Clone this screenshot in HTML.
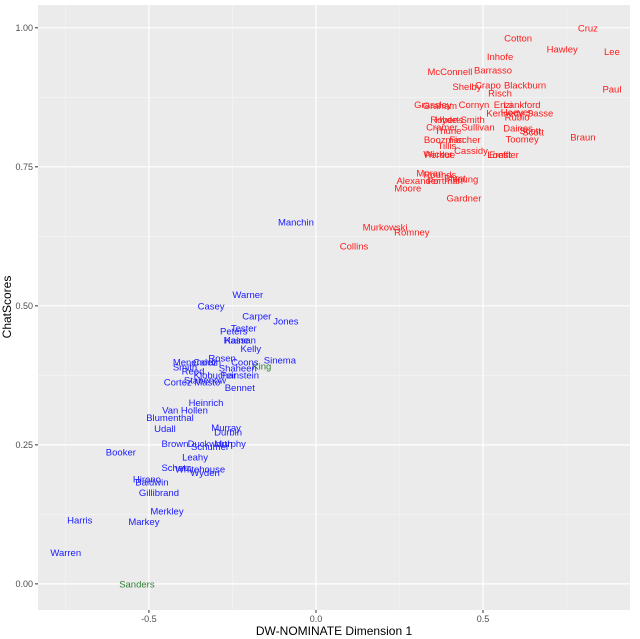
<!DOCTYPE html>
<html><head><meta charset="utf-8"><style>
html,body{margin:0;padding:0;background:#fff;}
svg{display:block;font-family:"Liberation Sans",sans-serif;}
</style></head><body>
<svg id="chart" width="640" height="639" viewBox="0 0 640 639">
<rect x="38" y="5" width="592" height="605" fill="#ebebeb"/>
<g id="grid"></g>
<g id="ticks"></g>
<g id="points"></g>
<text x="334" y="635" font-size="12" text-anchor="middle" fill="#000">DW-NOMINATE Dimension 1</text>
<text transform="translate(11,307) rotate(-90)" font-size="12" text-anchor="middle" fill="#000">ChatScores</text>
</svg>
<script>
const names = ["Cruz","Cotton","Hawley","Lee","Inhofe","McConnell","Barrasso","Blackburn","Paul","Crapo","Shelby","Risch","Grassley","Graham","Cornyn","Enzi","Lankford","Hoeven","Kennedy","Rubio","Sasse","Hyde-Smith","Roberts","Cramer","Sullivan","Daines","Scott","Scott","Thune","Toomey","Braun","Boozman","Fischer","Tillis","Cassidy","Wicker","Perdue","Ernst","Loeffler","Moran","Rounds","Young","Blunt","Alexander","Portman","Moore","Gardner","Murkowski","Romney","Collins",
"Manchin","Warner","Casey","Carper","Jones","Tester","Peters","Hassan","Kaine","Kelly","Rosen","Sinema","Menendez","Cardin","Coons","Shaheen","King","Smith","Reed","Klobuchar","Feinstein","Stabenow","Cortez Masto","Bennet","Heinrich","Van Hollen","Blumenthal","Udall","Murray","Durbin","Brown","Duckworth","Schumer","Murphy","Booker","Leahy","Schatz","Whitehouse","Wyden","Hirono","Baldwin","Gillibrand","Merkley","Harris","Markey","Warren","Sanders"];
const dwNominate = [0.814,0.605,0.737,0.886,0.551,0.401,0.530,0.626,0.886,0.515,0.452,0.551,0.350,0.371,0.473,0.560,0.617,0.602,0.566,0.602,0.671,0.431,0.392,0.377,0.485,0.605,0.641,0.650,0.395,0.617,0.799,0.383,0.446,0.392,0.464,0.365,0.371,0.551,0.560,0.341,0.371,0.446,0.416,0.305,0.386,0.275,0.443,0.207,0.287,0.114,
-0.060,-0.204,-0.314,-0.177,-0.090,-0.216,-0.246,-0.228,-0.237,-0.195,-0.281,-0.108,-0.362,-0.326,-0.213,-0.234,-0.162,-0.392,-0.368,-0.302,-0.228,-0.332,-0.371,-0.228,-0.329,-0.392,-0.437,-0.452,-0.269,-0.263,-0.422,-0.317,-0.317,-0.257,-0.584,-0.362,-0.419,-0.347,-0.332,-0.506,-0.491,-0.470,-0.446,-0.707,-0.515,-0.749,-0.536];
const chatScores = [1.000,0.982,0.962,0.957,0.948,0.921,0.924,0.897,0.890,0.897,0.894,0.883,0.862,0.860,0.862,0.862,0.862,0.849,0.847,0.840,0.847,0.835,0.835,0.822,0.822,0.820,0.815,0.813,0.815,0.800,0.804,0.799,0.799,0.788,0.779,0.773,0.772,0.772,0.772,0.739,0.736,0.728,0.730,0.725,0.725,0.712,0.694,0.642,0.633,0.608,
0.651,0.520,0.500,0.482,0.473,0.460,0.455,0.439,0.439,0.423,0.406,0.403,0.399,0.399,0.399,0.388,0.392,0.390,0.383,0.376,0.376,0.367,0.363,0.353,0.326,0.313,0.299,0.279,0.281,0.273,0.252,0.252,0.247,0.252,0.237,0.228,0.209,0.207,0.200,0.189,0.183,0.164,0.131,0.115,0.112,0.056,0.000];
const party = [].concat(Array(50).fill("R"),Array(16).fill("D"),["I"],Array(29).fill("D"),["I"]);
const xTicks = [-0.5,0,0.5];
const xTickLabels = ["-0.5","0.0","0.5"];
const yTicks = [0,0.25,0.5,0.75,1];
const yTickLabels = ["0.00","0.25","0.50","0.75","1.00"];

const NS="http://www.w3.org/2000/svg";
const X0=38,X1=630,Y0=5,Y1=610,XMIN=-0.832,XMAX=0.940,YMIN=-0.047,YMAX=1.041;
function sx(v){return X0+(v-XMIN)/(XMAX-XMIN)*(X1-X0);}
function sy(v){return Y1-(v-YMIN)/(YMAX-YMIN)*(Y1-Y0);}
function mk(tag,attrs,parent){const e=document.createElementNS(NS,tag);for(const k in attrs)e.setAttribute(k,attrs[k]);parent.appendChild(e);return e;}
const grid=document.getElementById("grid"),ticks=document.getElementById("ticks"),pts=document.getElementById("points");
[-0.75,-0.25,0.25,0.75].forEach(v=>{const l=mk("line",{x1:sx(v),x2:sx(v),y1:Y0,y2:Y1,stroke:"#f5f5f5","stroke-width":0.6},grid);

});
[0.125,0.375,0.625,0.875].forEach(v=>{const l=mk("line",{x1:X0,x2:X1,y1:sy(v),y2:sy(v),stroke:"#f5f5f5","stroke-width":0.6},grid);

});
xTicks.forEach((v,i)=>{const l=mk("line",{x1:sx(v),x2:sx(v),y1:Y0,y2:Y1,stroke:"#fff","stroke-width":1.2},grid);


const t=mk("line",{x1:sx(v),x2:sx(v),y1:Y1,y2:Y1+3,stroke:"#333"},ticks);


const tx=mk("text",{x:sx(v),y:Y1+12,"font-size":9,"text-anchor":"middle",fill:"#4d4d4d"},ticks);tx.textContent=xTickLabels[i];

});
yTicks.forEach((v,i)=>{const l=mk("line",{x1:X0,x2:X1,y1:sy(v),y2:sy(v),stroke:"#fff","stroke-width":1.2},grid);


const t=mk("line",{x1:X0-3,x2:X0,y1:sy(v),y2:sy(v),stroke:"#333"},ticks);


const tx=mk("text",{x:X0-5,y:sy(v)+3,"font-size":9,"text-anchor":"end",fill:"#4d4d4d"},ticks);tx.textContent=yTickLabels[i];

});
const col={R:"#ff1a1a",D:"#1a1aff",I:"#2e7d32"};
names.forEach((n,i)=>{const t=mk("text",{x:sx(dwNominate[i]),y:sy(chatScores[i])+3.5,"font-size":9.5,"text-anchor":"middle",fill:col[party[i]]},pts);t.textContent=n;

});
</script>
</body></html>
